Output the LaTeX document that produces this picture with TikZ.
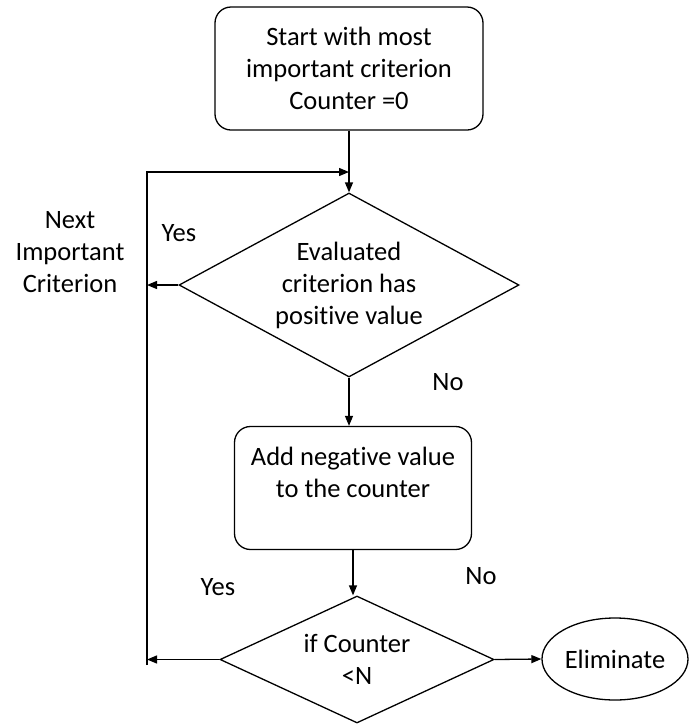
\documentclass[tikz,border=0pt]{standalone}
\usepackage{fontspec}
\setmainfont{Carlito}[Ligatures=NoCommon]
\usetikzlibrary{shapes.geometric,arrows.meta}
\begin{document}
\begin{tikzpicture}[x=1pt,y=-1pt,
  every node/.style={font=\fontsize{26.5}{32}\selectfont, align=center},
  line/.style={line width=1.3pt, draw=black},
  arr/.style={line, -{Triangle[length=10pt,width=8pt]}},
  rbox/.style={line, rounded corners=16pt, inner sep=0pt},
  dia/.style={line, diamond, inner sep=0pt},
  oval/.style={line, ellipse, inner sep=0pt, minimum width=146pt, minimum height=82pt},
  lbl/.style={inner sep=0pt}
]
\useasboundingbox (0,0) rectangle (689,724);
\fill[white] (0,0) rectangle (689,724);

\node[rbox, minimum width=268pt, minimum height=123pt] (start) at (349,68.5)
  {Start with most\\important criterion\\Counter =0};
\node[dia, aspect=1.85, minimum width=340pt, minimum height=184pt] (d1) at (349,285)
  {Evaluated\\criterion has\\positive value};
\node[rbox, minimum width=237pt, minimum height=123pt] (add) at (353,488)
  {Add negative value\\to the counter\\\mbox{}};
\node[dia, aspect=2.16, minimum width=274pt, minimum height=127pt] (d2) at (357,659.5)
  {if Counter\\{<}N};
\node[oval] (elim) at (615,659) {Eliminate};

\node[lbl] (next) at (70,252) {Next\\Important\\Criterion};
\node[lbl] (yes1) at (179,233) {Yes};
\node[lbl] (no1) at (448,382) {No};
\node[lbl] (yes2) at (218,587) {Yes};
\node[lbl] (no2) at (481,576) {No};

\coordinate (lbot) at (147,665);
\coordinate (ltop) at (147,172);
\coordinate (join) at (349,172);
\coordinate (l1) at (147,285);
\coordinate (l2) at (147,659.5);

\draw[arr] (start.south) -- (d1.north);
\draw[arr] (lbot) -- (ltop) -- (join);
\draw[arr] (d1.west) -- (l1);
\draw[arr] (d1.south) -- (d1.south |- add.north);
\draw[arr] (add.south) -- (add.south |- d2.north);
\draw[arr] (d2.west) -- (l2);
\draw[arr] (d2.east) -- (elim.west);
\end{tikzpicture}
\end{document}
